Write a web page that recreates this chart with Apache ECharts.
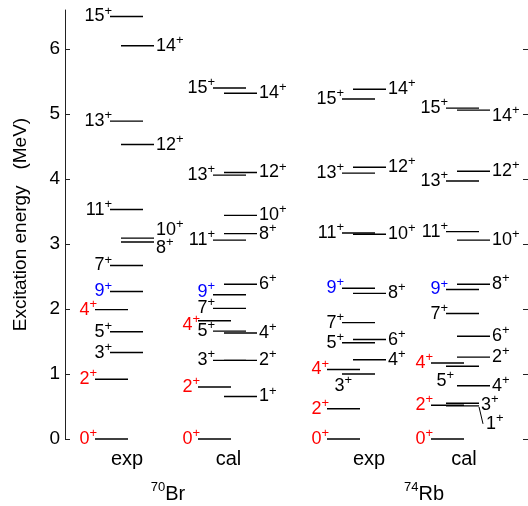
<!DOCTYPE html>
<html><head><meta charset="utf-8">
<script src="https://cdn.jsdelivr.net/npm/echarts@6/dist/echarts.min.js"></script>
<style>html,body{margin:0;padding:0;background:#fff}#c{width:528px;height:506px}</style>
</head><body><div id="c"></div>
<script>
// ---- Data (excitation energies in MeV) ----
// group: r = red (T=1) state, L = odd-spin column (label left), B = blue 9+ (label left), R = even-spin column (label right)
const br70ExpSpins    = ['0','2','4','3','5','9','7','8','10','11','12','13','14','15'];
const br70ExpEnergies = [0, 0.92, 1.99, 1.33, 1.65, 2.27, 2.67, 3.03, 3.09, 3.53, 4.53, 4.89, 6.05, 6.50];
const br70ExpGroups   = ['r','r','r','L','L','B','L','R','R','L','R','L','R','L'];

const br70CalSpins    = ['0','2','1','3','2','5','4','4','7','9','6','11','8','10','13','12','15','14'];
const br70CalEnergies = [0, 0.80, 0.655, 1.21, 1.21, 1.66, 1.63, 1.82, 2.01, 2.22, 2.38, 3.06, 3.16, 3.44, 4.06, 4.10, 5.40, 5.32];
const br70CalGroups   = ['r','r','R','L','R','L','R','r','L','B','R','L','R','R','L','R','L','R'];

const rb74ExpSpins    = ['0','2','4','3','4','5','6','7','8','9','11','10','13','12','15','14'];
const rb74ExpEnergies = [0, 0.465, 1.07, 1.00, 1.22, 1.48, 1.53, 1.79, 2.24, 2.32, 3.17, 3.15, 4.09, 4.18, 5.23, 5.38];
const rb74ExpGroups   = ['r','r','r','L','R','L','R','L','R','B','L','R','L','R','L','R'];

const rb74CalSpins    = ['0','2','1','3','4','5','4','2','6','7','9','8','10','11','13','12','15','14'];
const rb74CalEnergies = [0, 0.52, 0.51, 0.55, 0.82, 1.12, 1.17, 1.26, 1.58, 1.93, 2.30, 2.38, 3.06, 3.19, 3.97, 4.12, 5.09, 5.06];
const rb74CalGroups   = ['r','r','L','L','R','L','r','R','R','L','B','R','R','L','L','R','L','R'];

const columnLabels  = ['exp', 'cal', 'exp', 'cal'];
const nucleusLabels = [{mass: '70', sym: 'Br'}, {mass: '74', sym: 'Rb'}];
const yTicks = [0, 1, 2, 3, 4, 5, 6];

// ---- Layout / style ----
const columns = [
  {spins: br70ExpSpins, energies: br70ExpEnergies, groups: br70ExpGroups},
  {spins: br70CalSpins, energies: br70CalEnergies, groups: br70CalGroups},
  {spins: rb74ExpSpins, energies: rb74ExpEnergies, groups: rb74ExpGroups},
  {spins: rb74CalSpins, energies: rb74CalEnergies, groups: rb74CalGroups}
];
const colBase = [95, 198, 327, 431];
const groupOff = {r: 0, L: 15, B: 15, R: 26};
const LINE_W = 33;
const labelColor = {r: '#ff0000', B: '#0000ff', L: '#000', R: '#000'};
// label placement tweaks: key = col:spin+group
const tweaks = {
  '0:10R': {dy: -8}, '0:8R': {dy: 6},
  '1:9B': {dy: -3}, '1:4r': {dy: 4},
  '2:3L': {dy: 12, dx: 8},
  '3:3L': {side: 'R', dy: 2}, '3:1L': {side: 'R', dy: 18, dx: 5, connector: true},
  '3:5L': {dy: 15, dx: 6}, '3:14R': {dy: 6}
};

const items = [];
columns.forEach((c, ci) => {
  c.energies.forEach((e, li) => items.push({value: [colBase[ci], e, ci, li]}));
});

const rich = {
  n: {fontSize: 18, lineHeight: 24, fontFamily: 'Liberation Sans, Arial, sans-serif'},
  s: {fontSize: 13, lineHeight: 12, verticalAlign: 'top', fontFamily: 'Liberation Sans, Arial, sans-serif'}
};

function renderItem(params, api) {
  const ci = api.value(2), li = api.value(3);
  const c = columns[ci];
  const g = c.groups[li];
  const e = c.energies[li];
  const x1v = colBase[ci] + groupOff[g];
  const p1 = api.coord([x1v, e]);
  const p2 = api.coord([x1v + LINE_W, e]);
  const tw = tweaks[ci + ':' + c.spins[li] + g] || {};
  const side = tw.side || (g === 'R' ? 'R' : 'Lft');
  const dx = tw.dx || 0, dy = tw.dy || 0;
  const children = [{
    type: 'line',
    shape: {x1: p1[0], y1: p1[1], x2: p2[0], y2: p2[1]},
    style: {stroke: '#000', lineWidth: 1.4}
  }];
  const col = labelColor[g];
  const tx = side === 'R' ? p2[0] + 2 + dx : p1[0] + 2 + dx;
  children.push({
    type: 'text',
    x: tx, y: p1[1] + dy,
    style: {
      text: '{n|' + c.spins[li] + '}{s|+}',
      rich: rich,
      fill: col,
      align: side === 'R' ? 'left' : 'right',
      verticalAlign: 'middle'
    }
  });
  if (tw.connector) {
    children.push({
      type: 'line',
      shape: {x1: p2[0], y1: p2[1] + 1, x2: p2[0] + 4, y2: p2[1] + dy},
      style: {stroke: '#000', lineWidth: 1}
    });
  }
  return {type: 'group', children: children};
}

const chart = echarts.init(document.getElementById('c'));
const font = 'Liberation Sans, Arial, sans-serif';
const bottomX = [127, 228.5, 369, 464];
const graphics = [];
columnLabels.forEach((t, i) => graphics.push({
  type: 'text', x: bottomX[i], y: 459,
  style: {text: t, fontSize: 20, fontFamily: font, fill: '#000', align: 'center', verticalAlign: 'middle'}
}));
const nucX = [168, 424];
nucleusLabels.forEach((n, i) => graphics.push({
  type: 'text', x: nucX[i], y: 494,
  style: {
    text: '{m|' + n.mass + '}{b|' + n.sym + '}',
    rich: {
      m: {fontSize: 13, lineHeight: 12, verticalAlign: 'top', fontFamily: font},
      b: {fontSize: 20, lineHeight: 26, fontFamily: font}
    },
    fill: '#000', align: 'center', verticalAlign: 'middle'
  }
}));

chart.setOption({
  animation: false,
  backgroundColor: '#fff',
  grid: {left: 65, right: 0, top: 10, bottom: 67},
  xAxis: {type: 'value', min: 65, max: 528, show: false},
  yAxis: [{
    type: 'value', min: 0, max: 6.6, interval: 1, position: 'left',
    name: 'Excitation energy   (MeV)', nameLocation: 'middle', nameGap: 35,
    nameTextStyle: {fontSize: 19, fontFamily: font, color: '#000'},
    axisLine: {show: true, lineStyle: {color: '#222', width: 1}},
    axisTick: {show: true, inside: true, length: 5, customValues: yTicks, lineStyle: {color: '#222'}},
    axisLabel: {fontSize: 19, fontFamily: font, color: '#000', margin: 5, customValues: yTicks},
    splitLine: {show: false}
  }, {
    type: 'value', min: 0, max: 6.6, interval: 1, position: 'right',
    axisLine: {show: false},
    axisTick: {show: true, inside: true, length: 5, customValues: yTicks, lineStyle: {color: '#222'}},
    axisLabel: {show: false},
    splitLine: {show: false}
  }],
  series: [{
    type: 'custom',
    renderItem: renderItem,
    clip: false,
    encode: {x: 0, y: 1},
    data: items
  }],
  graphic: graphics
});
</script>
</body></html>
